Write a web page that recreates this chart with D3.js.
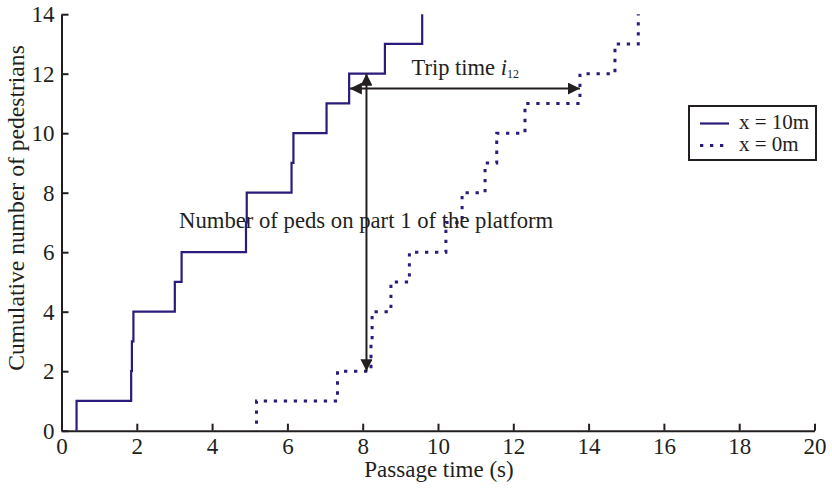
<!DOCTYPE html>
<html>
<head>
<meta charset="utf-8">
<script src="https://cdn.jsdelivr.net/npm/d3@7"></script>
<style>
  body { margin: 0; background: #fff; }
  svg { display: block; font-family: "Liberation Serif", "Times New Roman", serif; }
</style>
</head>
<body>
<div id="chart"></div>
<script>
// Arrival times (s) of each pedestrian, count goes up by 1 at each time
const timesX10 = [0.40, 1.85, 1.87, 1.91, 3.01, 3.19, 4.90, 4.92, 6.11, 6.16, 7.04, 7.64, 8.59, 9.58];
const timesX0 = [5.18, 7.33, 8.22, 8.25, 8.75, 9.24, 10.21, 10.64, 11.25, 11.56, 12.31, 13.77, 14.70, 15.32];
const seriesLabels = ["x = 10m", "x = 0m"];

const xTicks = [0, 2, 4, 6, 8, 10, 12, 14, 16, 18, 20];
const yTicks = [0, 2, 4, 6, 8, 10, 12, 14];

// annotation arrows (data units)
const tripArrow = [7.66, 13.77, 11.5];   // x from, x to, y
const pedsArrow = [8.1, 12, 2];          // x, y from, y to

const W = 832, H = 491;
const lineColor = "#2d1b7c";
const ink = "#231f20";

const svg = d3.select("#chart").append("svg")
    .attr("width", W)
    .attr("height", H);

const x = d3.scaleLinear().domain([0, 20]).range([61.5, 814.5]);
const y = d3.scaleLinear().domain([0, 14]).range([430.7, 14.2]);

// arrow head marker
const defs = svg.append("defs");
defs.append("marker")
    .attr("id", "head")
    .attr("viewBox", "0 0 12 12")
    .attr("refX", 12)
    .attr("refY", 6)
    .attr("markerWidth", 12)
    .attr("markerHeight", 12)
    .attr("markerUnits", "userSpaceOnUse")
    .attr("orient", "auto-start-reverse")
    .append("path")
    .attr("d", "M0,0 L12,6 L0,12 Z")
    .attr("fill", ink);

// axes
const xAxis = svg.append("g")
    .attr("transform", `translate(0,${y(0)})`)
    .call(d3.axisBottom(x).tickValues(xTicks).tickSize(-7).tickSizeOuter(0).tickPadding(7));

const yAxis = svg.append("g")
    .attr("transform", `translate(${x(0)},0)`)
    .call(d3.axisLeft(y).tickValues(yTicks).tickSize(-7).tickSizeOuter(0).tickPadding(7));

[xAxis, yAxis].forEach(a => {
    a.select(".domain").attr("stroke", ink).attr("stroke-width", 2);
    a.selectAll(".tick line").attr("stroke", ink).attr("stroke-width", 2);
    a.selectAll(".tick text")
        .attr("fill", ink)
        .attr("font-size", "23px")
        .attr("font-family", "Liberation Serif, Times New Roman, serif");
});

// step lines
function stairs(times) {
    const pts = [[times[0], 0]];
    times.forEach((t, i) => pts.push([t, i + 1]));
    return pts;
}

const line = d3.line()
    .x(d => x(d[0]))
    .y(d => y(d[1]))
    .curve(d3.curveStepAfter);

svg.append("path")
    .datum(stairs(timesX10))
    .attr("d", line)
    .attr("fill", "none")
    .attr("stroke", lineColor)
    .attr("stroke-width", 2.2);

svg.append("path")
    .datum(stairs(timesX0))
    .attr("d", line)
    .attr("fill", "none")
    .attr("stroke", lineColor)
    .attr("stroke-width", 3)
    .attr("stroke-dasharray", "3.3,6.7")
    .attr("stroke-dashoffset", 3);

// arrows
svg.append("line")
    .attr("x1", x(tripArrow[0])).attr("x2", x(tripArrow[1]))
    .attr("y1", y(tripArrow[2])).attr("y2", y(tripArrow[2]))
    .attr("stroke", ink).attr("stroke-width", 2)
    .attr("marker-start", "url(#head)")
    .attr("marker-end", "url(#head)");

svg.append("line")
    .attr("x1", x(pedsArrow[0])).attr("x2", x(pedsArrow[0]))
    .attr("y1", y(pedsArrow[1])).attr("y2", y(pedsArrow[2]))
    .attr("stroke", ink).attr("stroke-width", 2)
    .attr("marker-start", "url(#head)")
    .attr("marker-end", "url(#head)");

// annotation text
const trip = svg.append("text")
    .attr("x", 411.5).attr("y", 75)
    .attr("font-size", "22.5px")
    .attr("fill", ink);
trip.append("tspan").text("Trip time ");
trip.append("tspan").attr("font-style", "italic").text("i");
trip.append("tspan").attr("font-size", "12px").attr("dy", 3).text("12");

svg.append("text")
    .attr("x", 179).attr("y", 228)
    .attr("font-size", "22.7px")
    .attr("fill", ink)
    .text("Number of peds on part 1 of the platform");

// axis labels
svg.append("text")
    .attr("x", 439).attr("y", 477)
    .attr("text-anchor", "middle")
    .attr("font-size", "23px")
    .attr("fill", ink)
    .text("Passage time (s)");

svg.append("text")
    .attr("transform", "translate(24,208) rotate(-90)")
    .attr("text-anchor", "middle")
    .attr("font-size", "23.6px")
    .attr("fill", ink)
    .text("Cumulative number of pedestrians");

// legend
const legend = svg.append("g").attr("transform", "translate(689,106)");
legend.append("rect")
    .attr("width", 127).attr("height", 54)
    .attr("fill", "#fff")
    .attr("stroke", ink).attr("stroke-width", 2);

seriesLabels.forEach((lab, i) => {
    const yy = 17.5 + i * 22;
    legend.append("line")
        .attr("x1", 11).attr("x2", 40)
        .attr("y1", yy).attr("y2", yy)
        .attr("stroke", lineColor)
        .attr("stroke-width", i === 0 ? 2.2 : 3)
        .attr("stroke-dasharray", i === 0 ? null : "3.3,6.7");
    legend.append("text")
        .attr("x", 50).attr("y", yy + 5)
        .attr("font-size", "21px")
        .attr("fill", ink)
        .text(lab);
});
</script>
</body>
</html>
